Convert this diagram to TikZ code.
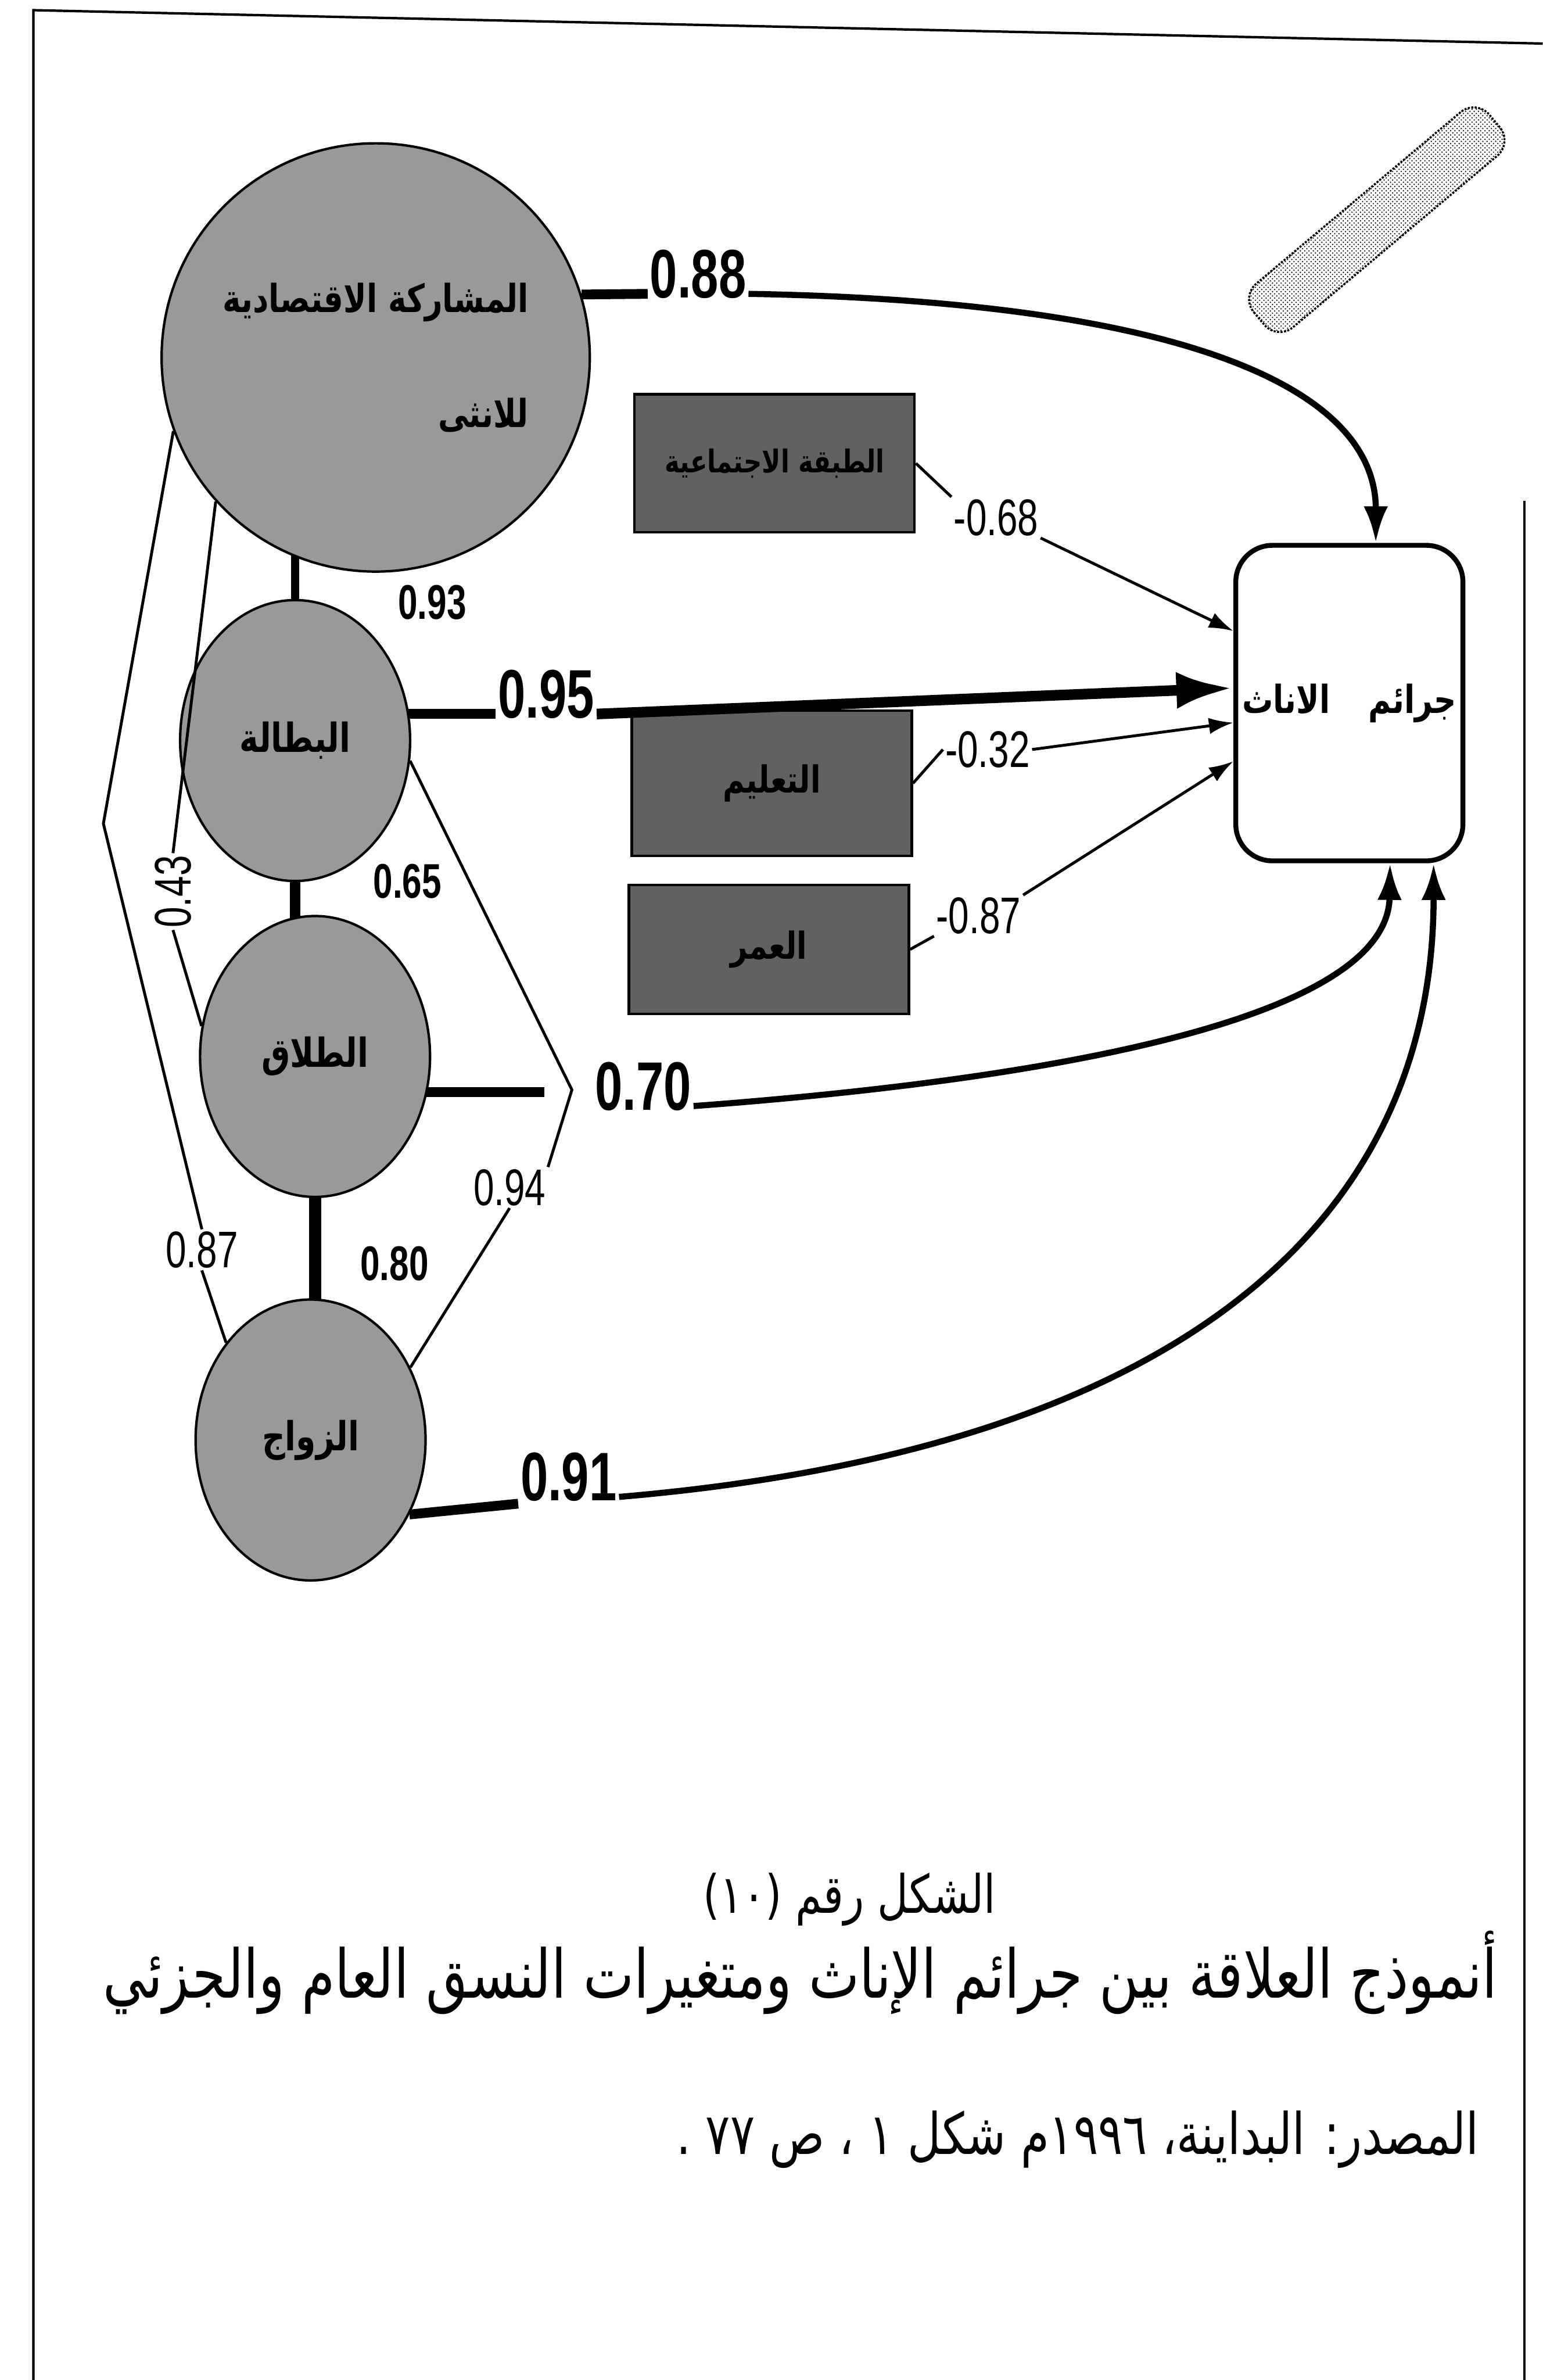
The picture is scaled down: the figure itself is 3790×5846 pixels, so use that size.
\documentclass[tikz,border=0pt]{standalone}
\usepackage{fontspec}
\setmainfont{Liberation Sans}
\newfontfamily\numfont[FakeStretch=0.72]{Liberation Sans}
\newfontfamily\arabicfont[Script=Arabic,FakeStretch=0.8]{DejaVu Sans}
\TeXXeTstate=1
\usetikzlibrary{arrows.meta,shapes.geometric,backgrounds,patterns}

\begin{document}
\begin{tikzpicture}[x=0.1mm,y=-0.1mm,>=Latex,
  var/.style={ellipse,draw=black,line width=0.6mm,fill=black!40,inner sep=0pt,minimum width=56.5mm,minimum height=69mm,font=\arabicfont\bfseries\fontsize{28}{34}\selectfont},
  ctrl/.style={rectangle,draw=black,line width=0.6mm,fill=black!62,minimum width=68.8mm,font=\arabicfont\bfseries\fontsize{26}{32}\selectfont},
  outbox/.style={rectangle,rounded corners=9mm,draw=black,line width=1.2mm,fill=white,minimum width=55.8mm,minimum height=77.5mm,font=\arabicfont\bfseries\fontsize{27}{32}\selectfont},
  bignum/.style={font=\numfont\bfseries\fontsize{48}{52}\selectfont,inner sep=0.5mm},
  midnum/.style={font=\numfont\bfseries\fontsize{34}{40}\selectfont,inner sep=0.5mm},
  smallnum/.style={font=\numfont\fontsize{36}{40}\selectfont,inner sep=0.5mm},
  thinline/.style={line width=0.7mm},
  stubline/.style={line width=2.4mm},
  heavyline/.style={line width=1.5mm},
  captext/.style={font=\arabicfont\fontsize{40}{48}\selectfont,inner sep=0pt}
]
\useasboundingbox (0,0) rectangle (3790,5846);

% general system (circles)
\node[var,circle,minimum size=105.2mm,align=right,font=\arabicfont\bfseries\fontsize{27}{32}\selectfont] (soc) at (923,878) {\beginR المشاركة الاقتصادية\endR\\[17mm]\beginR للانثى\endR};
\node[var] (une) at (725,1819) {\beginR البطالة\endR};
\node[var] (div) at (774,2595) {\beginR الطلاق\endR};
\node[var] (mar) at (763,3537) {\beginR الزواج\endR};

% partial system (boxes)
\node[ctrl,minimum height=33.9mm,font=\arabicfont\bfseries\fontsize{22}{28}\selectfont] (cls) at (1903,1138) {\beginR الطبقة الاجتماعية\endR};
\node[ctrl,minimum height=35.7mm] (edu) at (1896,1924) {\beginR التعليم\endR};
\node[ctrl,minimum height=31.6mm] (age) at (1889,2332) {\beginR العمر\endR};

\node[outbox] (fem) at (3315,1727) {\beginR جرائم\quad الاناث\endR};

% coefficients
\node[midnum] (l093) at (1062,1480) {0.93};
\node[midnum] (l065) at (1001,2164) {0.65};
\node[midnum] (l080) at (969,3104) {0.80};
\node[smallnum,rotate=90] (l043) at (425,2190) {0.43};
\node[smallnum] (l087) at (496,3070) {0.87};
\node[smallnum] (l094) at (1252,2917) {0.94};
\node[smallnum] (lm068) at (2447,1271) {-0.68};
\node[smallnum] (lm032) at (2426,1841) {-0.32};
\node[smallnum] (lm087) at (2404,2249) {-0.87};
\node[bignum] (l088) at (1715,673) {0.88};
\node[bignum] (l095) at (1342,1705) {0.95};
\node[bignum] (l070) at (1580,2668) {0.70};
\node[bignum] (l091) at (1397,3628) {0.91};

\coordinate (v087) at (254,2023);
\coordinate (v094) at (1405,2677);
\coordinate (s070) at (1338,2682);

\begin{pgfonlayer}{background}
\fill[white] (0,0) rectangle (3790,5846);
\draw[line width=2mm] (une.center) -- (une.center |- soc.center);
\draw[line width=2.5mm] (une.center) -- (une.center |- div.center);
\draw[line width=3mm] (div.center) -- (div.center |- mar.center);
\draw[stubline] (une.center |- l095.mid west) -- (l095.mid west);
\draw[stubline] (div.center |- s070) -- (s070);
\end{pgfonlayer}

% correlations
\draw[thinline] (soc.222) -- (l043.east);
\draw[thinline] (l043.west) -- (div.165);
\draw[thinline] (soc.200) -- (v087) -- (l087.north);
\draw[thinline] (l087.south) -- (mar.131);
\draw[thinline] (une.350) -- (v094) -- (l094.north east);
\draw[thinline] (l094.south) -- (mar.36);

% paths to the outcome
\draw[stubline] (soc.17) -- (l088.mid west);
\draw[stubline] (mar.323) -- (l091.south west);
\draw[heavyline,-{Latex[length=9mm,width=6mm]}] (l088.mid east) .. controls (2900,740) and (3380,950) .. ([xshift=6.5mm]fem.north);
\draw[line width=2.6mm,-{Latex[length=14mm,width=9mm]}] (l095.mid east) -- ([yshift=3.7mm]fem.west);
\draw[heavyline,-{Latex[length=9mm,width=6mm]}] (l070.mid east) .. controls (2600,2650) and (3410,2500) .. ([xshift=10mm]fem.south);
\draw[heavyline,-{Latex[length=9mm,width=6mm]}] (l091.mid east) .. controls (2900,3560) and (3522,3000) .. ([xshift=20.7mm]fem.south);
\draw[thinline] (cls.east) -- (lm068.north west);
\draw[thinline,-{Latex[length=6mm,width=4mm]}] (lm068.south east) -- ([yshift=17.7mm]fem.west);
\draw[thinline] (edu.east) -- (lm032.west);
\draw[thinline,-{Latex[length=6mm,width=4mm]}] (lm032.east) -- ([yshift=-4.8mm]fem.west);
\draw[thinline] (age.east) -- (lm087.south west);
\draw[thinline,-{Latex[length=6mm,width=4mm]}] (lm087.north east) -- ([yshift=-14.3mm]fem.west);

% stamp
\draw[densely dotted,line width=0.5mm,pattern=crosshatch dots,rounded corners=5mm,rotate around={40:(3382,540)}] (3005,470) rectangle (3760,610);

% frame
\draw[line width=0.6mm] (82,5846) -- (82,25) -- (3790,107);
\draw[line width=0.6mm] (3745,1230) -- (3745,5846);

% caption
\node[captext,font=\arabicfont\fontsize{37}{44}\selectfont] (fig) at (2087,4666) {\beginR الشكل رقم (١٠)\endR};
\node[captext,font=\arabicfont\fontsize{47}{54}\selectfont] (ttl) at (1966,4845) {\beginR أنموذج العلاقة بين جرائم الإناث ومتغيرات النسق العام والجزئي\endR};
\node[captext,anchor=east] (src) at (3634,5255) {\beginR المصدر: البداينة، ١٩٩٦م شكل ١ ، ص ٧٧ .\endR};
\end{tikzpicture}
\end{document}
